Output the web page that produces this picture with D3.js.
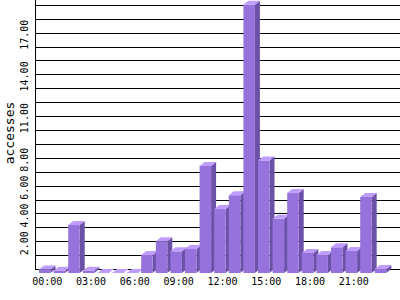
<!DOCTYPE html>
<html>
<head>
<meta charset="utf-8">
<script src="https://cdn.jsdelivr.net/npm/d3@7"></script>
<style>
  body { margin: 0; background: #fff; }
  text { font-family: "DejaVu Sans Mono", monospace; fill: #000; }
</style>
</head>
<body>
<script>
// data
var hours = ["00:00","01:00","02:00","03:00","04:00","05:00","06:00","07:00","08:00","09:00","10:00","11:00",
             "12:00","13:00","14:00","15:00","16:00","17:00","18:00","19:00","20:00","21:00","22:00","23:00"];
var accesses = [0.25, 0.17, 3.45, 0.17, 0, 0, 0, 1.3, 2.28, 1.56, 1.73, 7.7,
                4.6, 5.6, 19.3, 8.1, 3.9, 5.75, 1.44, 1.3, 1.85, 1.58, 5.47, 0.29];
var yTickValues = [2, 4, 6, 8, 11, 14, 17];
var gridValues = d3.range(1, 20);
var xLabelHours = ["00:00","03:00","06:00","09:00","12:00","15:00","18:00","21:00"];

var svgW = 400, svgH = 300;
var left = 35, right = 400, top = 0, bottom = 269;
var dx = 5, dy = 4;

var svg = d3.select("body").append("svg")
  .attr("width", svgW)
  .attr("height", svgH);

var x = d3.scaleBand()
  .domain(hours)
  .range([left, left + 24 * 14.6]);

var y = d3.scaleLinear()
  .domain([0, 19])
  .range([bottom, bottom - 19 * 13.9]);

var barW = 11.5, barOff = 4;

// grid lines
svg.append("g").selectAll("line")
  .data(gridValues)
  .enter().append("line")
    .attr("x1", left).attr("x2", right)
    .attr("y1", function (d) { return Math.round(y(d)) + 0.5; })
    .attr("y2", function (d) { return Math.round(y(d)) + 0.5; })
    .attr("stroke", "#000")
    .attr("stroke-width", 1.2);

// axes lines
svg.append("line")
  .attr("x1", left + 0.5).attr("x2", left + 0.5)
  .attr("y1", 0).attr("y2", bottom + 0.5)
  .attr("stroke", "#000");
svg.append("line")
  .attr("x1", left).attr("x2", right)
  .attr("y1", bottom + 0.5).attr("y2", bottom + 0.5)
  .attr("stroke", "#000")
  .attr("stroke-width", 1.2);

// 3d bars
var bars = svg.append("g").selectAll("g")
  .data(accesses)
  .enter().append("g");

function bx(i) { return x(hours[i]) + barOff; }

bars.append("path")
  .attr("fill", "#6b52a8")
  .attr("d", function (d, i) {
    var x0 = bx(i) + barW, yv = y(d), y0 = y(0);
    return "M" + x0 + "," + (yv + dy) + "L" + (x0 + dx) + "," + yv +
      "L" + (x0 + dx) + "," + y0 + "L" + x0 + "," + (y0 + dy) + "Z";
  });
bars.append("rect")
  .attr("fill", "#9673dc")
  .attr("x", function (d, i) { return bx(i); })
  .attr("y", function (d) { return y(d) + dy; })
  .attr("width", barW)
  .attr("height", function (d) { return y(0) - y(d); });
bars.append("path")
  .attr("fill", "#bf9cff")
  .attr("d", function (d, i) {
    var x0 = bx(i), yv = y(d);
    return "M" + x0 + "," + (yv + dy) + "L" + (x0 + dx) + "," + yv +
      "L" + (x0 + barW + dx) + "," + yv + "L" + (x0 + barW) + "," + (yv + dy) + "Z";
  });

// y tick labels, rotated
svg.append("g").selectAll("text")
  .data(yTickValues)
  .enter().append("text")
    .attr("transform", function (d) { return "translate(28," + (y(d) + 2) + ") rotate(-90)"; })
    .attr("text-anchor", "middle")
    .style("font-size", "10px")
    .text(function (d) { return d.toFixed(2); });

// x labels
svg.append("g").selectAll("text")
  .data(xLabelHours)
  .enter().append("text")
    .attr("x", function (d) { return x(d) + barOff + (barW + dx) / 2; })
    .attr("y", 285)
    .attr("text-anchor", "middle")
    .style("font-size", "10px")
    .text(function (d) { return d; });

// axis title
svg.append("text")
  .attr("transform", "translate(14,133) rotate(-90)")
  .attr("text-anchor", "middle")
  .style("font-size", "13px")
  .text("accesses");
</script>
</body>
</html>
